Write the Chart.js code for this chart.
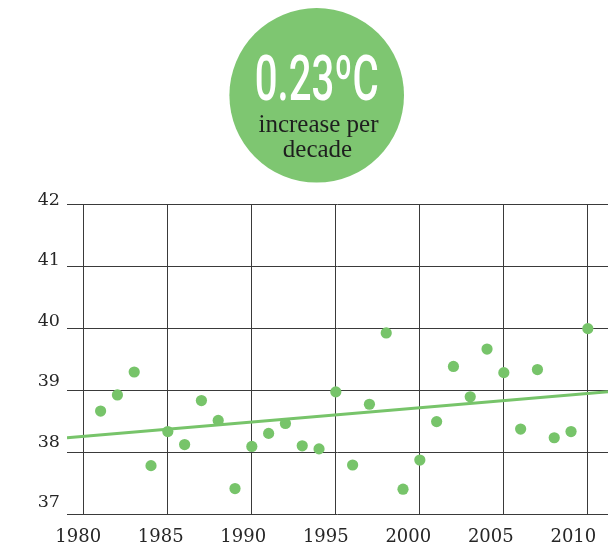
<!DOCTYPE html>
<html>
<head>
<meta charset="utf-8">
<script src="https://cdn.jsdelivr.net/npm/chart.js@4.4.1/dist/chart.umd.min.js"></script>
<style>
html,body{margin:0;padding:0;background:#fff;}
canvas{display:block;}
</style>
</head>
<body>
<canvas id="c" width="614" height="547"></canvas>
<script>
const years = [1981,1982,1983,1984,1985,1986,1987,1988,1989,1990,1991,1992,1993,1994,1995,1996,1997,1998,1999,2000,2001,2002,2003,2004,2005,2006,2007,2008,2009,2010];
const temps = [38.66,38.92,39.29,37.78,38.33,38.12,38.83,38.51,37.41,38.09,38.30,38.46,38.10,38.05,38.97,37.79,38.77,39.92,37.40,37.87,38.49,39.38,38.89,39.66,39.28,38.37,39.33,38.23,38.33,39.99];
const trendYears = [1979, 2011.2];
const trendValues = [38.23, 38.97];
const xTicks = [1980,1985,1990,1995,2000,2005,2010];
const yTicks = [37,38,39,40,41,42];
const badgeValue = '0.23ºC';
const badgeLines = ['increase per', 'decade'];

const GREEN = '#7ec671';
const DOT = '#77c46a';
const GRID = '#3a3a3a';
const TXT = '#262626';

const badgePlugin = {
  id: 'badge',
  afterDraw(chart) {
    const ctx = chart.ctx;
    const cx = 316.7, cy = 95.3, r = 87.3;
    ctx.save();
    ctx.beginPath();
    ctx.arc(cx, cy, r, 0, Math.PI * 2);
    ctx.fillStyle = GREEN;
    ctx.fill();
    ctx.font = '500 63px Roboto';
    ctx.fillStyle = '#ffffff';
    ctx.textAlign = 'center';
    ctx.textBaseline = 'alphabetic';
    const w = ctx.measureText(badgeValue).width;
    const sx = 124 / w;
    ctx.save();
    ctx.translate(cx, 100);
    ctx.scale(sx, 1);
    ctx.fillText(badgeValue, 0, 0);
    ctx.restore();
    ctx.font = '25px "Liberation Serif"';
    ctx.fillStyle = '#1e1e1e';
    ctx.fillText(badgeLines[0], 318.5, 132);
    ctx.fillText(badgeLines[1], 317.5, 157);
    ctx.restore();
  }
};

const fixTicks = (vals) => (scale) => { scale.ticks = vals.map(v => ({value: v})); };

new Chart(document.getElementById('c'), {
  data: {
    datasets: [
      {
        type: 'scatter',
        data: years.map((y, i) => ({x: y, y: temps[i]})),
        backgroundColor: DOT,
        borderWidth: 0,
        pointRadius: 5.6,
        pointHoverRadius: 5.6,
        xAxisID: 'x',
        yAxisID: 'y',
        order: 1
      },
      {
        type: 'line',
        data: trendYears.map((y, i) => ({x: y, y: trendValues[i]})),
        borderColor: DOT,
        borderWidth: 3,
        pointRadius: 0,
        fill: false,
        xAxisID: 'x',
        yAxisID: 'y',
        order: 2
      }
    ]
  },
  options: {
    responsive: false,
    animation: false,
    devicePixelRatio: 1,
    layout: {padding: {left: 0, right: 6, top: 204, bottom: 0}},
    plugins: {legend: {display: false}, tooltip: {enabled: false}},
    scales: {
      x: {
        type: 'linear', position: 'bottom', min: 1979, max: 2011.2,
        afterBuildTicks: fixTicks(xTicks),
        afterFit: (s) => { s.height = 0; },
        ticks: {display: false},
        border: {display: false},
        grid: {color: GRID, lineWidth: 1, drawTicks: false}
      },
      y: {
        type: 'linear', position: 'left', min: 37, max: 42,
        afterBuildTicks: fixTicks(yTicks),
        afterFit: (s) => { s.width = 0; },
        ticks: {display: false},
        border: {display: false},
        grid: {color: GRID, lineWidth: 1, drawTicks: false}
      },
      xl: {
        type: 'linear', position: 'bottom', min: 1979.32, max: 2012.1,
        afterBuildTicks: fixTicks(xTicks),
        afterFit: (s) => { s.height = 33; },
        border: {display: false},
        grid: {display: false, drawTicks: false},
        ticks: {color: TXT, font: {family: 'DejaVu Serif', size: 18}, padding: 13, maxRotation: 0, autoSkip: false, callback: (v) => String(v)}
      },
      yl: {
        type: 'linear', position: 'left', min: 36.81, max: 41.937,
        afterBuildTicks: fixTicks(yTicks),
        afterFit: (s) => { s.width = 67; },
        border: {display: false},
        grid: {display: false, drawTicks: false},
        ticks: {color: TXT, font: {family: 'DejaVu Serif', size: 17.5}, padding: 7, autoSkip: false, callback: (v) => String(v)}
      }
    }
  },
  plugins: [badgePlugin]
});
</script>
</body>
</html>
